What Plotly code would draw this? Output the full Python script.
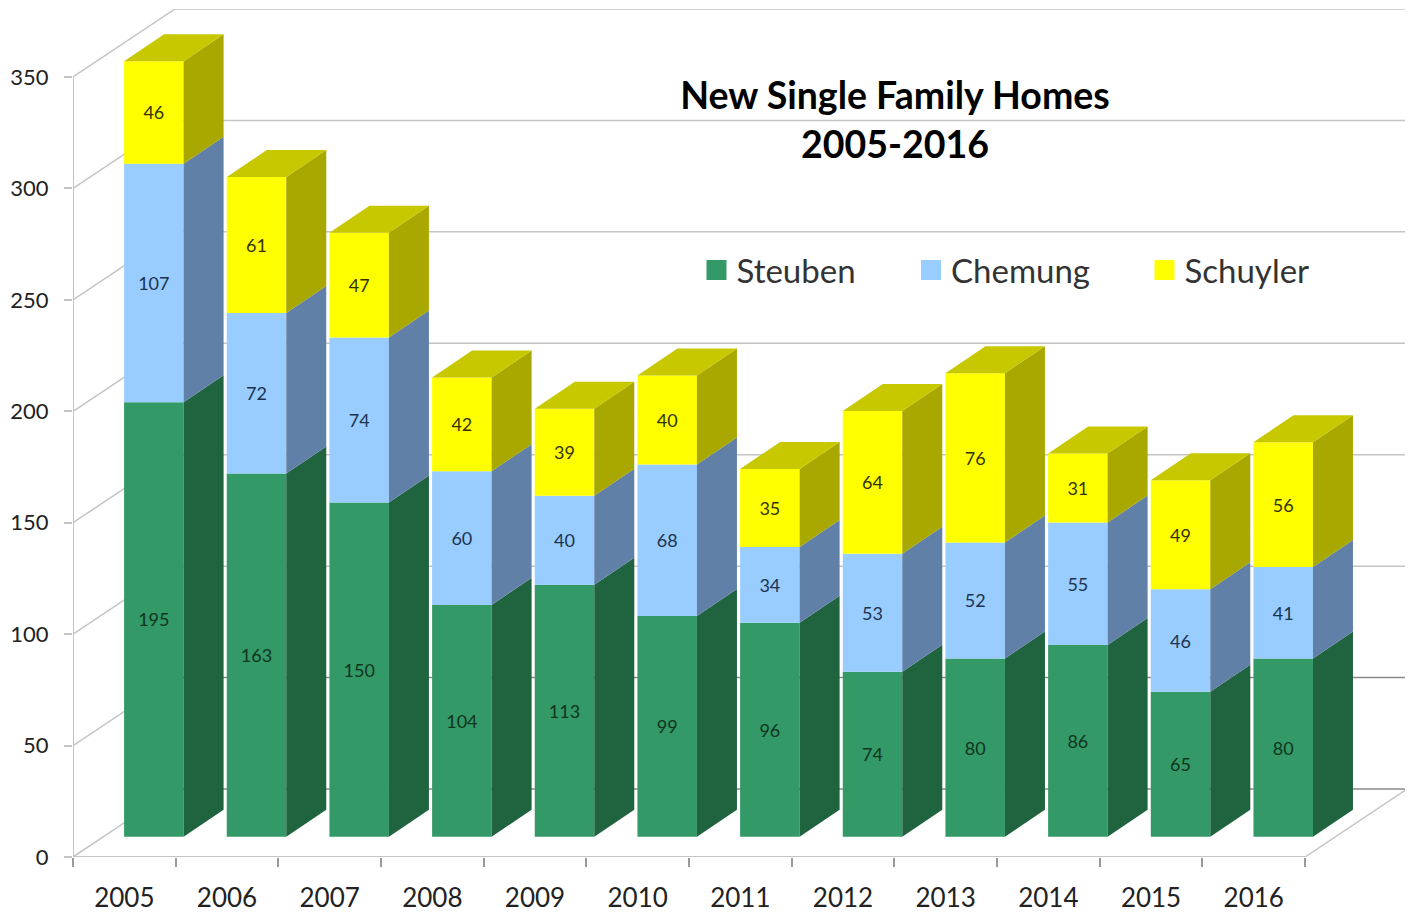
import plotly.graph_objects as go

years = ["2005","2006","2007","2008","2009","2010","2011","2012","2013","2014","2015","2016"]
steuben = [195,163,150,104,113,99,96,74,80,86,65,80]
chemung = [107,72,74,60,40,68,34,53,52,55,46,41]
schuyler = [46,61,47,42,39,40,35,64,76,31,49,56]
y_ticks = [0,50,100,150,200,250,300,350]

PAGE = 8                  # default body margin of the page
W, H = 1413 - PAGE, 912 - PAGE
PX_L, PX_R, PX_T, PX_B = 73 - PAGE, 1407 - PAGE, 9 - PAGE, 857 - PAGE
PX_PER_CAT = 102.67
PX_PER_UNIT = 780 / 350

def dx(px): return px / PX_PER_CAT
def dy(px): return px / PX_PER_UNIT

X_MIN = -0.5
X_MAX = X_MIN + (PX_R - PX_L) / PX_PER_CAT
Y_MAX = (PX_B - PX_T) / PX_PER_UNIT

BAR_SHIFT = dx(29.5)      # bar centre behind the axis plane
BAR_WIDTH = dx(59.5)
FLOOR = dy(20.3)          # bar base lift
DEPTH_X, DEPTH_Y = dx(40), dy(27)
WALL_X, WALL_Y = dx(102), dy(68)
GRID = "#c4c4c4"

series = [
    ("Steuben", steuben, "#339966", "#20633f", None, "#10351f"),
    ("Chemung", chemung, "#99ccff", "#6080a8", None, "#1c3350"),
    ("Schuyler", schuyler, "#ffff00", "#a8a800", "#c8c800", "#333300"),
]

xs = [i + BAR_SHIFT for i in range(len(years))]
fig = go.Figure()
cum = [0.0] * len(years)
sides = []
tops = []
for name, vals, front, side, top, tc in series:
    fig.add_trace(go.Bar(
        x=xs, y=vals, base=[c + FLOOR for c in cum], width=BAR_WIDTH,
        marker=dict(color=front, line=dict(width=0)),
        text=[str(v) for v in vals], textposition="inside", insidetextanchor="middle",
        textangle=0, constraintext="none",
        textfont=dict(family="Lato", size=18, color=tc),
        showlegend=False, hoverinfo="skip",
    ))
    px, py, tx, ty = [], [], [], []
    for i, v in enumerate(vals):
        r = xs[i] + BAR_WIDTH / 2
        l = xs[i] - BAR_WIDTH / 2
        b = cum[i] + FLOOR
        t = b + v
        px += [r, r + DEPTH_X, r + DEPTH_X, r, r, None]
        py += [b, b + DEPTH_Y, t + DEPTH_Y, t, b, None]
        tx += [l, l + DEPTH_X, r + DEPTH_X, r, l, None]
        ty += [t, t + DEPTH_Y, t + DEPTH_Y, t, t, None]
    sides.append((px, py, side))
    if top:
        tops.append((tx, ty, top))
    cum = [c + v for c, v in zip(cum, vals)]

for px, py, col in sides + tops:
    fig.add_trace(go.Scatter(x=px, y=py, mode="lines", fill="toself", fillcolor=col,
                             line=dict(width=0, color=col), showlegend=False, hoverinfo="skip"))

# legend entries, one legend per entry so each can sit at its own place
legend_px = [696.5 - PAGE, 911 - PAGE, 1144.5 - PAGE]
legends = {}
for k, ((name, vals, front, *_), lx) in enumerate(zip(series, legend_px)):
    key = "legend" if k == 0 else f"legend{k+1}"
    fig.add_trace(go.Scatter(x=[None], y=[None], mode="markers", name=name, legend=key,
                             marker=dict(symbol="square", size=16, color=front,
                                         line=dict(width=4, color=front))))
    legends[key] = dict(x=(lx - PX_L) / (PX_R - PX_L), y=(PX_B - (270 - PAGE)) / (PX_B - PX_T),
                        xanchor="left", yanchor="middle", bgcolor="rgba(0,0,0,0)",
                        font=dict(family="Lato", size=33, color="#333333"),
                        itemwidth=30, itemsizing="trace", tracegroupgap=0)

# walls and floor
shapes = []
def seg(x0, y0, x1, y1, color=GRID, width=1.5):
    shapes.append(dict(type="line", xref="x", yref="y", x0=x0, y0=y0, x1=x1, y1=y1,
                       layer="below", line=dict(color=color, width=width)))

for v in y_ticks:
    seg(X_MIN, v, X_MIN + WALL_X, v + WALL_Y)
    seg(X_MIN + WALL_X, v + WALL_Y, X_MAX, v + WALL_Y,
        color="#8a8a8a" if v in (0, 50) else GRID)
seg(X_MIN, 0, X_MIN, 350, width=2)
seg(X_MIN, 0, 11.5, 0, width=2)
seg(11.5, 0, 11.5 + WALL_X, WALL_Y)

fig.update_layout(
    width=W, height=H, autosize=False,
    margin=dict(l=PX_L, r=W - PX_R, t=PX_T, b=H - PX_B, pad=0),
    paper_bgcolor="white", plot_bgcolor="white",
    barmode="overlay", shapes=shapes, hovermode=False,
    title=dict(text="New Single Family Homes<br>2005-2016",
               x=(895 - PAGE) / W, xanchor="center", xref="container",
               y=1 - (109 - PAGE) / H, yanchor="middle", yref="container",
               font=dict(family="Lato", size=37.5, color="#000000", weight="bold")),
    xaxis=dict(range=[X_MIN, X_MAX], tickmode="array",
               tickvals=list(range(len(years))), ticktext=years, ticks="",
               showgrid=False, zeroline=False, showline=False, automargin=False,
               tickfont=dict(family="Lato", size=26, color="#222222"), ticklabelstandoff=23,
               minor=dict(tickmode="array", tickvals=[i - 0.5 for i in range(len(years) + 1)],
                          ticks="outside", ticklen=9, tickwidth=1.5, tickcolor="#9a9a9a", showgrid=False)),
    yaxis=dict(range=[0, Y_MAX], tickmode="array", tickvals=y_ticks, ticks="outside",
               ticklen=8, tickwidth=1.5, tickcolor=GRID, showgrid=False, zeroline=False, showline=False,
               automargin=False,
               tickfont=dict(family="Lato", size=22, color="#222222"), ticklabelstandoff=11),
    **legends,
)
fig.write_html("out.html")
